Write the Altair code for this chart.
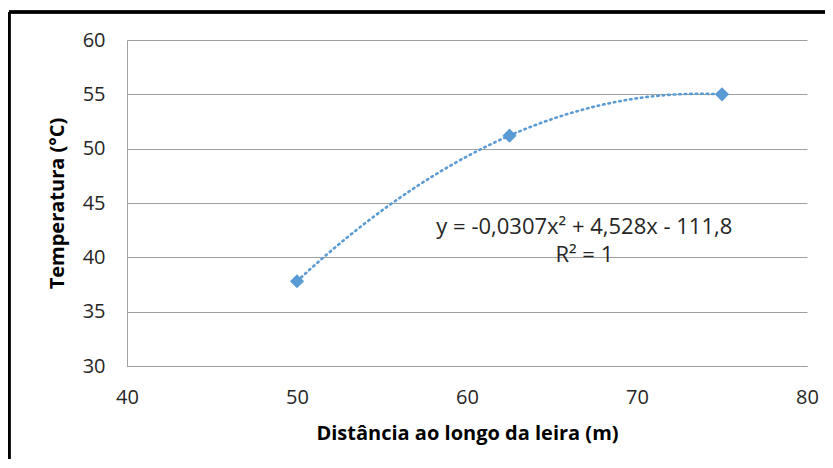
import altair as alt
import pandas as pd

# data
dist = [50, 62.5, 75]
temp = [37.8, 51.2, 55.0]

eq_text = ["y = -0,0307x² + 4,528x - 111,8", "R² = 1"]
eq_x = [66.9, 66.9]
eq_y = [42.75, 40.2]

x_ticks = [40, 50, 60, 70, 80]
y_ticks = [30, 35, 40, 45, 50, 55, 60]

BLUE = "#5B9BD5"
FONT = "Open Sans"

df = pd.DataFrame({"x": dist, "y": temp})
df_eq = pd.DataFrame({"x": eq_x, "y": eq_y, "t": eq_text})

xs = alt.Scale(domain=[40, 80], nice=False, zero=False)
ys = alt.Scale(domain=[30, 60], nice=False, zero=False)

xax = alt.Axis(values=x_ticks, title="Distância ao longo da leira (m)", grid=False,
               tickSize=0, labelPadding=21, titlePadding=16, domainColor="#A0A0A0",
               labelFlush=False)
yax = alt.Axis(values=y_ticks, title="Temperatura (°C)", grid=True, gridColor="#A0A0A0",
               tickSize=0, labelPadding=22, titlePadding=15, domainColor="#A0A0A0")

base = alt.Chart(df)

trend = base.transform_regression("x", "y", method="poly", order=2, extent=[50, 75]).mark_line(
    color=BLUE, strokeWidth=2.6, strokeDash=[1.5, 4], strokeCap="round", interpolate="monotone"
).encode(x=alt.X("x:Q", scale=xs, axis=xax), y=alt.Y("y:Q", scale=ys, axis=yax))

pts = base.mark_point(shape="diamond", filled=True, size=200, opacity=1, color=BLUE).encode(
    x=alt.X("x:Q", scale=xs), y=alt.Y("y:Q", scale=ys)
)

eq = alt.Chart(df_eq).mark_text(font=FONT, fontSize=22, color="#262626", align="center",
                                baseline="middle").encode(
    x=alt.X("x:Q", scale=xs), y=alt.Y("y:Q", scale=ys), text="t:N"
)

frame_top = alt.Chart(df).mark_rule(color="black", strokeWidth=3, clip=False).encode(
    x=alt.value(-118), x2=alt.value(740), y=alt.value(-28)
)
frame_left = alt.Chart(df).mark_rule(color="black", strokeWidth=3, clip=False).encode(
    x=alt.value(-118), y=alt.value(-28), y2=alt.value(460)
)

chart = alt.layer(trend, pts, eq, frame_top, frame_left).properties(
    width=680, height=326,
    autosize=alt.AutoSizeParams(type="none"),
    padding={"left": 119, "top": 32, "right": 18, "bottom": 93},
).configure(background="white").configure_view(stroke=None).configure_axis(
    labelFont=FONT, labelFontSize=20, labelColor="#262626",
    titleFont=FONT, titleFontSize=20, titleFontWeight="bold", titleColor="#000000",
)

chart.save("out.html", embed_options={"renderer": "svg", "actions": False})
